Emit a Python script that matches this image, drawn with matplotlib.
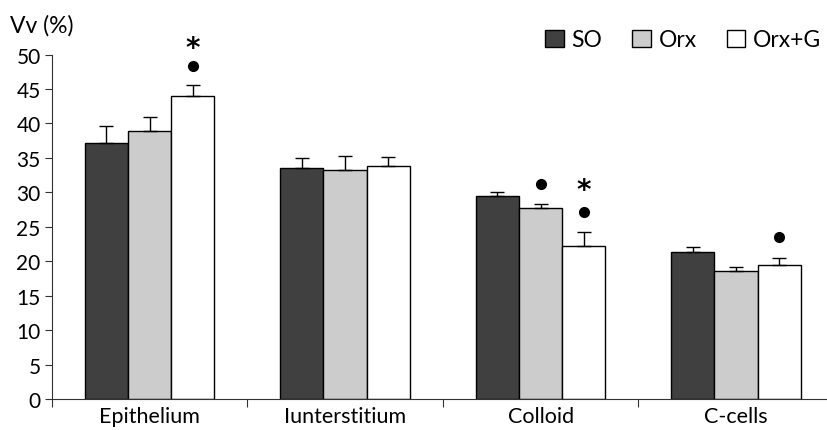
import numpy as np
import matplotlib.pyplot as plt
from matplotlib.patches import Patch

plt.rcParams['font.family'] = ['Lato', 'DejaVu Sans']

categories = ["Epithelium", "Iunterstitium", "Colloid", "C-cells"]
groups = ["SO", "Orx", "Orx+G"]
so = [37.1, 33.5, 29.4, 21.4]
orx = [38.9, 33.3, 27.7, 18.6]
orxg = [44.0, 33.8, 22.2, 19.5]
so_err = [2.5, 1.5, 0.7, 0.6]
orx_err = [2.0, 2.0, 0.6, 0.5]
orxg_err = [1.6, 1.4, 2.0, 0.9]
colors = ["#404040", "#cccccc", "#ffffff"]

# significance marks: (category, group, y, symbol)
marks = [(0, 2, 48.3, "dot"), (0, 2, 51.5, "star"),
         (2, 1, 31.2, "dot"), (2, 2, 31.0, "star"), (2, 2, 27.1, "dot"),
         (3, 2, 23.5, "dot")]

fig = plt.figure(figsize=(8.28, 4.31), dpi=100)
ax = fig.add_axes([0.0625, 0.072, 0.9375, 0.799])

x = np.arange(len(categories))
w = 0.221
series = [so, orx, orxg]
errs = [so_err, orx_err, orxg_err]
for i in range(3):
    pos = x + (i - 1) * w
    ax.bar(pos, series[i], w, color=colors[i], edgecolor="black", linewidth=1.0, zorder=2)
    ax.errorbar(pos, series[i], yerr=[np.zeros(4), errs[i]], fmt="none",
                ecolor="black", elinewidth=1.0, capsize=5, capthick=1.0, zorder=3)

for c, g, yv, sym in marks:
    px = c + (g - 1) * w
    if sym == "dot":
        ax.plot(px, yv, "o", color="black", markersize=7, zorder=4)
    else:
        ax.text(px, yv - 0.6, "*", ha="center", va="center", fontsize=20,
                family="DejaVu Sans", fontweight="bold", zorder=4)

ax.set_xlim(-0.5, 3.47)
ax.set_ylim(0, 50)
ax.set_yticks(np.arange(0, 51, 5))
ax.set_xticks(np.arange(-0.5, 3.5, 1.0))
ax.set_xticklabels([])
ax.set_xticks(x, minor=True)
ax.set_xticklabels(categories, minor=True)
ax.tick_params(axis="x", which="minor", length=0, labelsize=15.5, pad=5)
ax.tick_params(axis="x", which="major", length=6, direction="out", color="#333333")
ax.tick_params(axis="y", length=5, labelsize=15, color="#333333", pad=3)
for s in ["top", "right"]:
    ax.spines[s].set_visible(False)
ax.spines["left"].set_color("#333333")
ax.spines["bottom"].set_color("#333333")

fig.text(0.012, 0.94, "Vv (%)", fontsize=16.5, va="center", ha="left")

handles = [Patch(facecolor=colors[i], edgecolor="black", label=groups[i]) for i in range(3)]
fig.legend(handles=handles, loc="center", bbox_to_anchor=(0.825, 0.905), ncol=3,
           frameon=False, fontsize=16.5, handlelength=0.8, handleheight=0.8,
           handletextpad=0.35, columnspacing=1.3)

fig.savefig("out.png", dpi=100)
